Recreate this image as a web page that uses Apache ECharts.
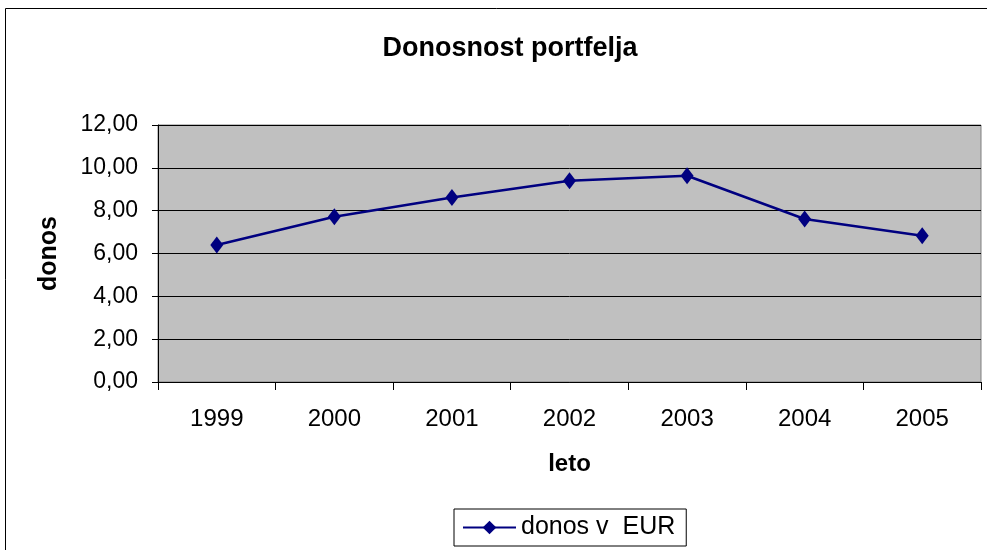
<!DOCTYPE html>
<html>
<head>
<meta charset="utf-8">
<script src="https://cdn.jsdelivr.net/npm/echarts@6/dist/echarts.min.js"></script>
<style>
  html, body { margin: 0; padding: 0; background: #fff; }
  #chart { width: 987px; height: 550px; }
</style>
</head>
<body>
<div id="chart"></div>
<script>
const years = ['1999', '2000', '2001', '2002', '2003', '2004', '2005']
const donos = [6.40, 7.72, 8.61, 9.40, 9.63, 7.61, 6.83]
const seriesName = 'donos v  EUR'

const chart = echarts.init(document.getElementById('chart'))
const font = 'Liberation Sans, Arial, sans-serif'

const option = {
  animation: false,
  backgroundColor: '#fff',
  textStyle: { fontFamily: font },
  graphic: [
    {
      // outer chart border
      type: 'rect',
      shape: { x: 5.5, y: 8.5, width: 1000, height: 600 },
      style: { fill: 'none', stroke: '#000', lineWidth: 1 },
      silent: true
    }
  ],
  title: {
    text: 'Donosnost portfelja',
    left: 505,
    textAlign: 'center',
    top: 30,
    textStyle: { fontFamily: font, fontSize: 27, fontWeight: 'bold', color: '#000' }
  },
  legend: {
    data: [seriesName],
    left: 454,
    top: 509,
    padding: [6, 11, 6, 8],
    borderColor: '#000',
    borderWidth: 1,
    itemWidth: 53,
    itemHeight: 17,
    itemGap: 0,
    textStyle: { fontFamily: font, fontSize: 25, color: '#000' }
  },
  grid: {
    left: 158,
    right: 6,
    top: 125,
    bottom: 168,
    show: true,
    backgroundColor: '#C0C0C0',
    borderColor: '#808080',
    borderWidth: 1
  },
  xAxis: {
    type: 'category',
    data: years,
    boundaryGap: true,
    name: 'leto',
    nameLocation: 'middle',
    nameGap: 70,
    nameTextStyle: { fontFamily: font, fontSize: 24, fontWeight: 'bold', color: '#000' },
    axisLine: { lineStyle: { color: '#000', width: 1 } },
    axisTick: { show: true, length: 8, interval: 0, lineStyle: { color: '#000' } },
    axisLabel: { fontFamily: font, fontSize: 24, color: '#000', margin: 25 },
    splitLine: { show: false }
  },
  yAxis: {
    type: 'value',
    min: 0,
    max: 12,
    interval: 2,
    name: 'donos',
    nameLocation: 'middle',
    nameGap: 96,
    nameTextStyle: { fontFamily: font, fontSize: 25, fontWeight: 'bold', color: '#000' },
    axisLine: { show: true, lineStyle: { color: '#000', width: 1 } },
    axisTick: { show: true, length: 6, lineStyle: { color: '#000' } },
    axisLabel: {
      fontFamily: font,
      fontSize: 23,
      color: '#000',
      margin: 20,
      formatter: (v) => v.toFixed(2).replace('.', ',')
    },
    splitLine: { show: true, lineStyle: { color: '#000', width: 1 } }
  },
  series: [
    {
      name: seriesName,
      type: 'line',
      data: donos,
      symbol: 'diamond',
      symbolSize: [13, 17],
      itemStyle: { color: '#000080' },
      lineStyle: { color: '#000080', width: 2.5 }
    }
  ]
}

chart.setOption(option)
</script>
</body>
</html>
